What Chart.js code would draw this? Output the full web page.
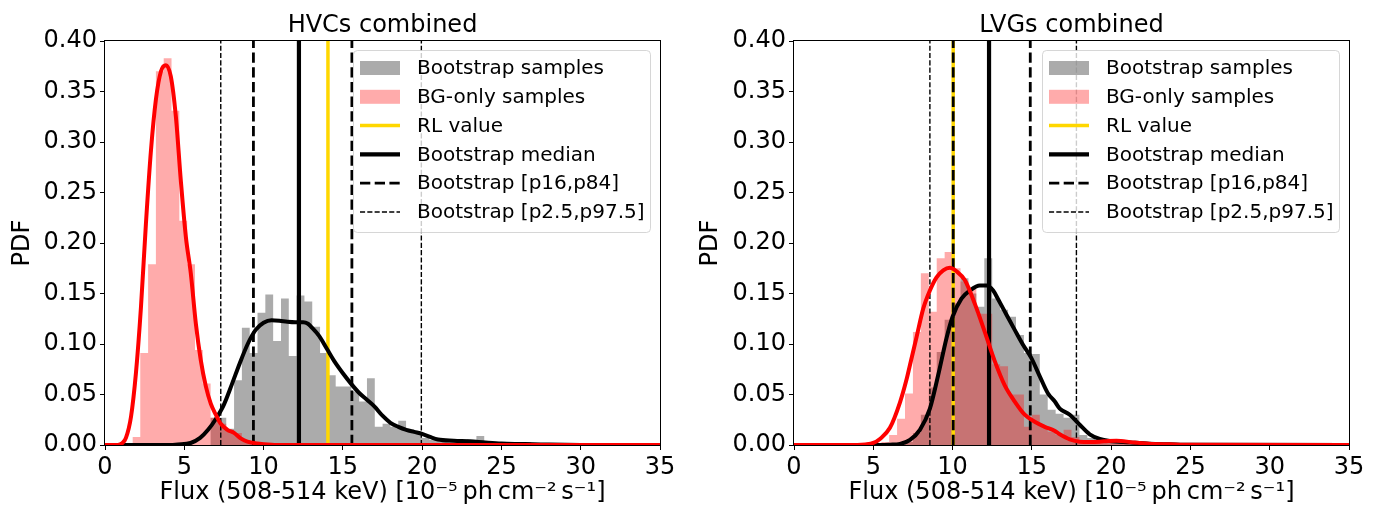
<!DOCTYPE html>
<html>
<head>
<meta charset="utf-8">
<script src="https://cdn.jsdelivr.net/npm/chart.js@4.4.1/dist/chart.umd.min.js"></script>
<style>
    html, body { margin: 0; padding: 0; background: #fff; }
    body { width: 1377px; height: 511px; position: relative; overflow: hidden; }
    .panel { position: absolute; top: 0; }
    #left { left: 0; }
    #right { left: 688px; }
</style>
</head>
<body>
<div class="panel" id="left"><canvas id="hvcChart" width="688" height="511"></canvas></div>
<div class="panel" id="right"><canvas id="lvgChart" width="689" height="511"></canvas></div>
<script>
// ---- HVCs combined (left panel) ----
const hvcBinWidth = 0.493;
const hvcBinCenters = [
    1.977, 2.470, 2.963, 3.456, 3.949, 4.442, 4.935, 5.428, 5.921, 6.414,
    6.907, 7.400, 7.893, 8.386, 8.879, 9.372, 9.865, 10.358, 10.851, 11.344,
    11.837, 12.330, 12.823, 13.316, 13.809, 14.302, 14.795, 15.288, 15.781, 16.274,
    16.767, 17.260, 17.753, 18.246, 18.739, 19.232, 19.725, 20.218, 20.711, 21.204,
    21.697, 22.190, 22.683, 23.176, 23.669, 24.162, 24.655, 25.148, 25.641, 26.134,
    26.627, 27.120,
];
const hvcBootstrapHist = [
    0, 0, 0, 0, 0, 0, 0, 0, 0, 0,
    0.027, 0.027, 0.016, 0.064, 0.116, 0.091, 0.131, 0.149, 0.103, 0.145,
    0.088, 0.148, 0.142, 0.117, 0.091, 0.069, 0.058, 0.058, 0.053, 0.043,
    0.066, 0.018, 0.021, 0.018, 0.024, 0.013, 0.013, 0.007, 0.005, 0.005,
    0.004, 0.004, 0.006, 0.003, 0.009, 0.002, 0.001, 0.001, 0.003, 0.001,
    0.003, 0.001,
];
const hvcBgHist = [
    0.008, 0.091, 0.179, 0.370, 0.383, 0.331, 0.222, 0.179, 0.094, 0.061,
    0.027, 0.021, 0.015, 0.012, 0.004, 0.002, 0, 0, 0, 0,
    0, 0, 0, 0, 0, 0, 0, 0, 0, 0,
    0, 0, 0, 0, 0, 0, 0, 0, 0, 0,
    0, 0, 0, 0, 0, 0, 0, 0, 0, 0,
    0, 0,
];
const hvcBootstrapKdeX = [0, 4.0, 4.6, 5.4, 6.0, 6.5, 7.0, 7.5, 8.0, 8.5, 9.0, 9.5, 10.0, 10.5, 11.0, 11.5,
    12.0, 12.5, 12.8, 13.0, 13.5, 14.0, 14.5, 15.0, 15.5, 16.0, 16.5, 17.0, 17.5, 18.0, 18.5, 19.0,
    19.5, 20.0, 20.5, 21.0, 22.0, 23.0, 24.0, 25.0, 26.0, 27.0, 28.0, 30.0, 35];
const hvcBootstrapKdeY = [0, 0, 0.0005, 0.002, 0.007, 0.015, 0.026, 0.040, 0.060, 0.081, 0.100, 0.114, 0.121, 0.1235, 0.123, 0.122,
    0.1215, 0.1215, 0.120, 0.117, 0.108, 0.095, 0.082, 0.071, 0.061, 0.052, 0.045, 0.038, 0.029, 0.022, 0.018, 0.015,
    0.013, 0.011, 0.008, 0.0055, 0.0043, 0.0036, 0.0024, 0.0014, 0.001, 0.0008, 0.0004, 0.0001, 0];
const hvcBgKdeX = [0, 0.8, 1.1, 1.32, 1.64, 1.95, 2.27, 2.58, 2.9, 3.21, 3.53, 3.84, 4.15, 4.47, 4.78, 5.10,
    5.41, 5.73, 6.04, 6.36, 6.67, 6.99, 7.30, 7.72, 8.14, 8.56, 8.98, 9.61, 10.5, 11.5, 35];
const hvcBgKdeY = [0, 0, 0.002, 0.007, 0.028, 0.071, 0.137, 0.219, 0.292, 0.342, 0.370, 0.376, 0.365, 0.325, 0.262, 0.206,
    0.170, 0.120, 0.084, 0.058, 0.041, 0.030, 0.021, 0.015, 0.012, 0.0066, 0.0033, 0.0015, 0.0003, 0, 0];
const hvcRL = 14.06;
const hvcMedian = 12.23;
const hvcP16P84 = [9.36, 15.57];
const hvcP2P97 = [7.30, 19.95];

// ---- LVGs combined (right panel) ----
const lvgBinWidth = 0.5;
const lvgBinCenters = [
    5.75, 6.25, 6.75, 7.25, 7.75, 8.25, 8.75, 9.25, 9.75, 10.25,
    10.75, 11.25, 11.75, 12.25, 12.75, 13.25, 13.75, 14.25, 14.75, 15.25,
    15.75, 16.25, 16.75, 17.25, 17.75, 18.25, 18.75, 19.25, 19.75, 20.25,
    20.75, 21.25, 21.75, 22.25, 22.75,
];
const lvgBootstrapHist = [
    0, 0, 0, 0.003, 0.012, 0.030, 0.057, 0.092, 0.124, 0.140,
    0.165, 0.150, 0.137, 0.185, 0.145, 0.134, 0.127, 0.109, 0.091, 0.090,
    0.050, 0.035, 0.031, 0.027, 0.030, 0.010, 0.007, 0.004, 0.003, 0.003,
    0.002, 0.001, 0.001, 0.001, 0.0005,
];
const lvgBgHist = [
    0.003, 0.010, 0.026, 0.051, 0.112, 0.170, 0.132, 0.185, 0.191, 0.175,
    0.162, 0.155, 0.130, 0.130, 0.080, 0.078, 0.050, 0.050, 0.018, 0.030,
    0.018, 0.013, 0.010, 0.015, 0.008, 0.005, 0.003, 0.002, 0.002, 0.006,
    0.002, 0.001, 0.0005, 0, 0,
];
const lvgBootstrapKdeX = [0, 5.5, 6.05, 6.68, 7.31, 7.94, 8.57, 9.09, 9.62, 10.0, 10.56, 11.09, 11.72, 12.14, 12.56, 12.88,
    13.4, 13.92, 14.45, 14.97, 15.5, 16.02, 16.45, 16.76, 17.39, 18.02, 18.65, 19.28, 19.91, 21.17, 22.4, 23.7, 25, 35];
const lvgBootstrapKdeY = [0, 0, 0.0003, 0.001, 0.005, 0.015, 0.036, 0.069, 0.106, 0.127, 0.145, 0.153, 0.158, 0.158, 0.153, 0.144,
    0.129, 0.114, 0.099, 0.086, 0.068, 0.051, 0.043, 0.036, 0.030, 0.020, 0.0106, 0.006, 0.004, 0.0026, 0.0013, 0.0007, 0.0002, 0];
const lvgBgKdeX = [0, 4.0, 4.5, 5.0, 5.42, 6.05, 6.68, 7.1, 7.31, 7.73, 8.15, 8.57, 8.99, 9.41, 9.83, 10.25,
    10.78, 11.4, 12.03, 12.66, 13.29, 13.92, 14.55, 15.18, 15.81, 16.43, 16.76, 17.39, 18.02, 18.65, 19.28, 19.8,
    20.33, 21.38, 22.4, 23.7, 25, 35];
const lvgBgKdeY = [0, 0, 0.0005, 0.002, 0.006, 0.017, 0.042, 0.065, 0.079, 0.107, 0.135, 0.153, 0.166, 0.173, 0.1755, 0.172,
    0.163, 0.140, 0.112, 0.083, 0.059, 0.043, 0.030, 0.023, 0.018, 0.014, 0.0106, 0.0056, 0.0033, 0.003, 0.0033, 0.004,
    0.0043, 0.0026, 0.0013, 0.0007, 0.0002, 0];
const lvgRL = 10.04;
const lvgMedian = 12.30;
const lvgP16P84 = [10.04, 14.90];
const lvgP2P97 = [8.57, 17.81];

// ---- shared axis setup ----
const xTicks = [0, 5, 10, 15, 20, 25, 30, 35];
const yTicks = [0, 0.05, 0.10, 0.15, 0.20, 0.25, 0.30, 0.35, 0.40];
const xLabel = "Flux (508-514 keV) [10\u207B\u2075\u2009ph\u2009cm\u207B\u00B2\u2009s\u207B\u00B9]";
const yLabel = "PDF";

const FONT = "'DejaVu Sans', sans-serif";
const GRAY_FILL = "rgba(128, 128, 128, 0.66)";
const RED_FILL = "rgba(255, 0, 0, 0.33)";
const GOLD = "#ffd700";

const legendItems = [
    { kind: "patch", color: GRAY_FILL, label: "Bootstrap samples" },
    { kind: "patch", color: RED_FILL, label: "BG-only samples" },
    { kind: "line", color: GOLD, width: 3.5, dash: [], label: "RL value" },
    { kind: "line", color: "#000", width: 4.2, dash: [], label: "Bootstrap median" },
    { kind: "line", color: "#000", width: 2.8, dash: [10.3, 4.4], label: "Bootstrap [p16,p84]" },
    { kind: "line", color: "#000", width: 1.4, dash: [5.1, 2.2], label: "Bootstrap [p2.5,p97.5]" },
];

function points(xs, ys) {
    return xs.map((x, i) => ({ x: x, y: ys[i] }));
}

// histogram as one filled step outline (bin left edges + closing right edge), no seams between bins
function histDataset(centers, width, values, color, order) {
    const data = centers.map((c, i) => ({ x: c - width / 2, y: values[i] }));
    data.push({ x: centers[centers.length - 1] + width / 2, y: values[values.length - 1] });
    return {
        type: "line",
        data: data,
        stepped: true,
        fill: "origin",
        backgroundColor: color,
        borderWidth: 0,
        pointRadius: 0,
        order: order,
    };
}

function kdeDataset(xs, ys, color, order) {
    return {
        type: "line",
        data: points(xs, ys),
        borderColor: color,
        borderWidth: 4,
        pointRadius: 0,
        fill: false,
        cubicInterpolationMode: "monotone",
        order: order,
    };
}

function vline(x, color, width, dash, order) {
    return {
        type: "line",
        data: [{ x: x, y: yTicks[0] }, { x: x, y: yTicks[yTicks.length - 1] }],
        borderColor: color,
        borderWidth: width,
        borderDash: dash,
        pointRadius: 0,
        fill: false,
        order: order,
    };
}

// title, frame and in-axes legend
const panelDecor = {
    id: "panelDecor",
    afterDatasetsDraw(chart) {
        const { ctx, chartArea: a } = chart;
        ctx.save();
        ctx.strokeStyle = "#000";
        ctx.lineWidth = 1;
        ctx.strokeRect(a.left - 0.5, a.top - 0.5, a.right - a.left + 1, a.bottom - a.top + 1);
        ctx.restore();
    },
    afterDraw(chart, args, opts) {
        const { ctx, chartArea: a } = chart;
        ctx.save();
        ctx.fillStyle = "#000";
        ctx.font = "24px " + FONT;
        ctx.textAlign = "center";
        ctx.textBaseline = "alphabetic";
        ctx.fillText(opts.title, (a.left + a.right) / 2, 32);

        // legend box
        const w = 297, h = 182;
        const bx = a.right - 10 - w, by = a.top + 9;
        ctx.beginPath();
        ctx.roundRect(bx + 0.5, by + 0.5, w, h, 4);
        ctx.fillStyle = "rgba(255,255,255,0.8)";
        ctx.fill();
        ctx.strokeStyle = "rgba(204,204,204,0.8)";
        ctx.lineWidth = 1;
        ctx.stroke();

        ctx.font = "20px " + FONT;
        ctx.textAlign = "left";
        ctx.textBaseline = "middle";
        legendItems.forEach((item, i) => {
            const cy = by + 18 + 28.8 * i;
            const hx = bx + 7;
            if (item.kind === "patch") {
                ctx.fillStyle = item.color;
                ctx.fillRect(hx, cy - 7, 40, 14);
            } else {
                ctx.beginPath();
                ctx.setLineDash(item.dash);
                ctx.strokeStyle = item.color;
                ctx.lineWidth = item.width;
                ctx.moveTo(hx, cy);
                ctx.lineTo(hx + 40, cy);
                ctx.stroke();
                ctx.setLineDash([]);
            }
            ctx.fillStyle = "#000";
            ctx.fillText(item.label, bx + 64, cy + 1);
        });
        ctx.restore();
    },
};

function makePanel(canvasId, title, yAxisWidth, d) {
    const tickFont = { family: FONT, size: 24 };
    return new Chart(document.getElementById(canvasId), {
        type: "line",
        data: {
            datasets: [
                kdeDataset(d.bgKdeX, d.bgKdeY, "#ff0000", 1),
                kdeDataset(d.bootKdeX, d.bootKdeY, "#000000", 2),
                vline(d.p2p97[0], "#000", 1.4, [5.1, 2.2], 5),
                vline(d.p2p97[1], "#000", 1.4, [5.1, 2.2], 5),
                vline(d.p16p84[0], "#000", 2.8, [10.3, 4.4], 6),
                vline(d.p16p84[1], "#000", 2.8, [10.3, 4.4], 6),
                vline(d.median, "#000", 4.2, [], 7),
                vline(d.rl, GOLD, 3.5, [], 8),
                histDataset(d.centers, d.binWidth, d.bgHist, RED_FILL, 9),
                histDataset(d.centers, d.binWidth, d.bootHist, GRAY_FILL, 10),
            ],
        },
        options: {
            responsive: false,
            animation: false,
            events: [],
            layout: { padding: { top: 41, right: 28, left: 0, bottom: 0 } },
            plugins: {
                legend: { display: false },
                tooltip: { enabled: false },
                panelDecor: { title: title },
            },
            scales: {
                x: {
                    type: "linear",
                    min: xTicks[0],
                    max: xTicks[xTicks.length - 1],
                    offset: false,
                    afterBuildTicks: (s) => { s.ticks = xTicks.map((v) => ({ value: v })); },
                    afterFit: (s) => { s.height = 66; },
                    ticks: { font: tickFont, color: "#000", padding: 3, maxRotation: 0, autoSkip: false },
                    grid: { display: true, drawOnChartArea: false, drawTicks: true, tickLength: 5, color: "#000", offset: false },
                    border: { display: false },
                    title: { display: true, text: xLabel, font: tickFont, color: "#000", padding: { top: 0, bottom: 4 } },
                },
                y: {
                    type: "linear",
                    min: yTicks[0],
                    max: yTicks[yTicks.length - 1],
                    afterBuildTicks: (s) => { s.ticks = yTicks.map((v) => ({ value: v })); },
                    afterFit: (s) => { s.width = yAxisWidth; },
                    ticks: { font: tickFont, color: "#000", padding: 3, callback: (v) => v.toFixed(2) },
                    grid: { display: true, drawOnChartArea: false, drawTicks: true, tickLength: 5, color: "#000" },
                    border: { display: false },
                    title: { display: true, text: yLabel, font: tickFont, color: "#000", padding: { top: 8, bottom: 0 } },
                },
            },
        },
        plugins: [panelDecor],
    });
}

makePanel("hvcChart", "HVCs combined", 105, {
    centers: hvcBinCenters, binWidth: hvcBinWidth, bootHist: hvcBootstrapHist, bgHist: hvcBgHist,
    bootKdeX: hvcBootstrapKdeX, bootKdeY: hvcBootstrapKdeY, bgKdeX: hvcBgKdeX, bgKdeY: hvcBgKdeY,
    rl: hvcRL, median: hvcMedian, p16p84: hvcP16P84, p2p97: hvcP2P97,
});
makePanel("lvgChart", "LVGs combined", 106, {
    centers: lvgBinCenters, binWidth: lvgBinWidth, bootHist: lvgBootstrapHist, bgHist: lvgBgHist,
    bootKdeX: lvgBootstrapKdeX, bootKdeY: lvgBootstrapKdeY, bgKdeX: lvgBgKdeX, bgKdeY: lvgBgKdeY,
    rl: lvgRL, median: lvgMedian, p16p84: lvgP16P84, p2p97: lvgP2P97,
});
</script>
</body>
</html>
